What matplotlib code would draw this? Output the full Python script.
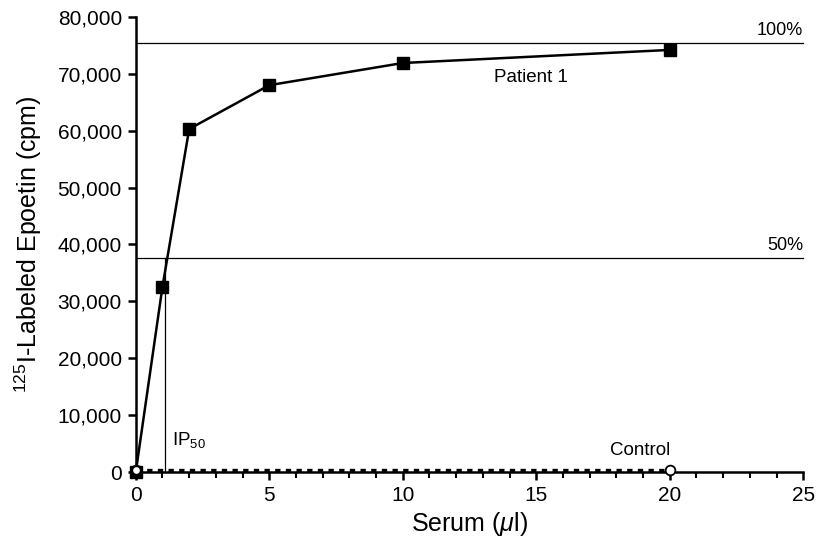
import matplotlib.pyplot as plt
from matplotlib.ticker import FuncFormatter, MultipleLocator

# Daten aus der Abbildung
serum = [0, 1, 2, 5, 10, 20]
patient1 = [0, 32600, 60300, 68000, 71900, 74200]
control_x = [0, 20]
control_y = [300, 300]
level_100 = 75400
level_50 = 37700
ip50 = 1.1

plt.rcParams['font.family'] = ['Liberation Sans', 'DejaVu Sans']
plt.rcParams['mathtext.fontset'] = 'custom'
plt.rcParams['mathtext.rm'] = 'Liberation Sans'
plt.rcParams['mathtext.it'] = 'Liberation Sans:italic'

fig = plt.figure(figsize=(8.18, 5.46), dpi=100)
ax = fig.add_axes([0.166, 0.1355, 0.816, 0.8335])

# Referenzlinien 100 % und 50 %
ax.plot([0, 25], [level_100, level_100], color='black', lw=0.9)
ax.plot([0, 25], [level_50, level_50], color='black', lw=0.9)
ax.plot([ip50, ip50], [0, level_50], color='black', lw=0.9)

# Kontrolle
ax.plot(control_x, control_y, color='black', lw=2.4, ls=(0, (1.6, 1.6)),
        marker='o', ms=7, mfc='white', mec='black', mew=1.3, zorder=4)

# Patient 1
ax.plot(serum, patient1, color='black', lw=1.8, marker='s', ms=8, zorder=3)
ax.plot([0], [control_y[0]], marker='o', ms=6, mfc='white', mec='black', mew=1.2, zorder=5)

ax.text(25, level_100 + 700, '100%', ha='right', va='bottom', fontsize=13)
ax.text(25, level_50 + 700, '50%', ha='right', va='bottom', fontsize=13)
ax.text(14.8, 69400, 'Patient 1', ha='center', va='center', fontsize=13.5)
ax.text(18.9, 3700, 'Control', ha='center', va='center', fontsize=13.5)
ax.text(1.35, 5600, r'IP$_{50}$', ha='left', va='center', fontsize=13.5)

ax.set_xlim(0, 25)
ax.set_ylim(0, 80000)
ax.set_xticks([0, 5, 10, 15, 20, 25])
ax.xaxis.set_minor_locator(MultipleLocator(1))
ax.set_yticks(range(0, 80001, 10000))
ax.yaxis.set_major_formatter(FuncFormatter(lambda v, p: f'{int(v):,}'))
ax.tick_params(axis='both', which='major', labelsize=15, width=1.8, length=6, pad=4)
ax.tick_params(axis='x', which='minor', width=1.5, length=4.5)

for s in ['top', 'right']:
    ax.spines[s].set_visible(False)
for s in ['left', 'bottom']:
    ax.spines[s].set_linewidth(1.8)
ax.margins(0)
for line in ax.lines:
    line.set_clip_on(False)

ax.set_xlabel(r'Serum ($\mu$l)', fontsize=18, labelpad=4)
ax.set_ylabel(r'$^{125}$I-Labeled Epoetin (cpm)', fontsize=18, labelpad=10)

plt.savefig('out.png', dpi=100)
